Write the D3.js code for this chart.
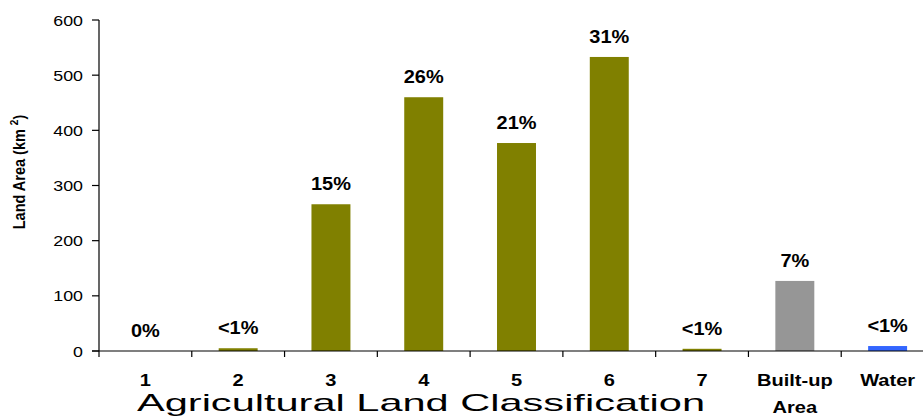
<!DOCTYPE html>
<html>
<head>
<meta charset="utf-8">
<script src="https://cdn.jsdelivr.net/npm/d3@7/dist/d3.min.js"></script>
<style>
  html, body { margin: 0; padding: 0; background: #fff; }
  svg { display: block; font-family: "Liberation Sans", Arial, sans-serif; }
</style>
</head>
<body>
<svg id="chart" width="923" height="418"></svg>
<script>
// ---- data ----
const categories = ["1", "2", "3", "4", "5", "6", "7", "Built-up Area", "Water"];
const values = [0, 5, 266, 460, 377, 533, 4, 127, 9];
const pctLabels = ["0%", "<1%", "15%", "26%", "21%", "31%", "<1%", "7%", "<1%"];
const barColors = ["#808000", "#808000", "#808000", "#808000", "#808000", "#808000", "#808000", "#969696", "#3366FF"];
const yTicks = [0, 100, 200, 300, 400, 500, 600];
const xTitle = "Agricultural Land Classification";

// ---- layout ----
const svg = d3.select("#chart");
const mLeft = 99, mRight = 934, mTop = 20, mBottom = 351;

const x = d3.scaleBand().domain(categories).range([mLeft, mRight]).paddingInner(0.58).paddingOuter(0.29);
const xb = d3.scaleBand().domain(categories).range([mLeft, mRight]); // band boundaries
const y = d3.scaleLinear().domain([0, 600]).range([mBottom, mTop]);

// bars
svg.append("g").selectAll("rect").data(categories).join("rect")
  .attr("x", d => x(d))
  .attr("width", x.bandwidth())
  .attr("y", (d, i) => y(values[i]))
  .attr("height", (d, i) => y(0) - y(values[i]))
  .attr("fill", (d, i) => barColors[i]);

// percentage labels
svg.append("g").selectAll("text").data(categories).join("text")
  .attr("transform", (d, i) => `translate(${x(d) + x.bandwidth() / 2},${y(values[i]) - 14}) scale(1.05,1)`)
  .attr("text-anchor", "middle")
  .attr("font-size", 19)
  .attr("font-weight", "bold")
  .attr("fill", "#000")
  .text((d, i) => pctLabels[i]);

// y axis
const ya = svg.append("g");
ya.append("line").attr("x1", mLeft).attr("x2", mLeft).attr("y1", y(600)).attr("y2", y(0))
  .attr("stroke", "#000").attr("stroke-width", 1.2);
ya.selectAll("line.tick").data(yTicks).join("line").attr("class", "tick")
  .attr("x1", mLeft - 7).attr("x2", mLeft).attr("y1", d => y(d)).attr("y2", d => y(d))
  .attr("stroke", "#000").attr("stroke-width", 1.2);
ya.selectAll("text").data(yTicks).join("text")
  .attr("transform", d => `translate(${mLeft - 16},${y(d) + 5.5}) scale(1.15,1)`)
  .attr("text-anchor", "end")
  .attr("font-size", 15.5)
  .attr("fill", "#000")
  .text(d => d);

// x axis
const xa = svg.append("g");
xa.append("line").attr("x1", mLeft - 7).attr("x2", mRight).attr("y1", y(0)).attr("y2", y(0))
  .attr("stroke", "#000").attr("stroke-width", 1.2);
const bounds = categories.map(c => xb(c)).concat([mRight]);
xa.selectAll("line.tick").data(bounds).join("line").attr("class", "tick")
  .attr("x1", d => d).attr("x2", d => d).attr("y1", y(0)).attr("y2", y(0) + 6)
  .attr("stroke", "#000").attr("stroke-width", 1.2);

xa.selectAll("text").data(categories).join("text")
  .attr("transform", d => `translate(${xb(d) + xb.bandwidth() / 2},386) scale(1.18,1)`)
  .attr("text-anchor", "middle")
  .attr("font-size", 17)
  .attr("font-weight", "bold")
  .attr("fill", "#000")
  .each(function(d) {
    const words = d === "Built-up Area" ? ["Built-up", "Area"] : [d];
    const t = d3.select(this);
    words.forEach((w, k) => {
      t.append("tspan").attr("x", 0).attr("dy", k === 0 ? 0 : 27).text(w);
    });
  });

// x title
svg.append("text")
  .attr("x", 137).attr("y", 411)
  .attr("font-size", 24)
  .attr("textLength", 568)
  .attr("lengthAdjust", "spacingAndGlyphs")
  .attr("fill", "#000")
  .text(xTitle);

// y title
const yt = svg.append("text")
  .attr("transform", `translate(25,172) scale(1.15,1) rotate(-90)`)
  .attr("text-anchor", "middle")
  .attr("font-size", 14.5)
  .attr("font-weight", "bold")
  .attr("fill", "#000");
yt.append("tspan").text("Land Area (km ");
yt.append("tspan").attr("font-size", 10).attr("dy", -6).text("2");
yt.append("tspan").attr("dy", 6).text(")");
</script>
</body>
</html>
